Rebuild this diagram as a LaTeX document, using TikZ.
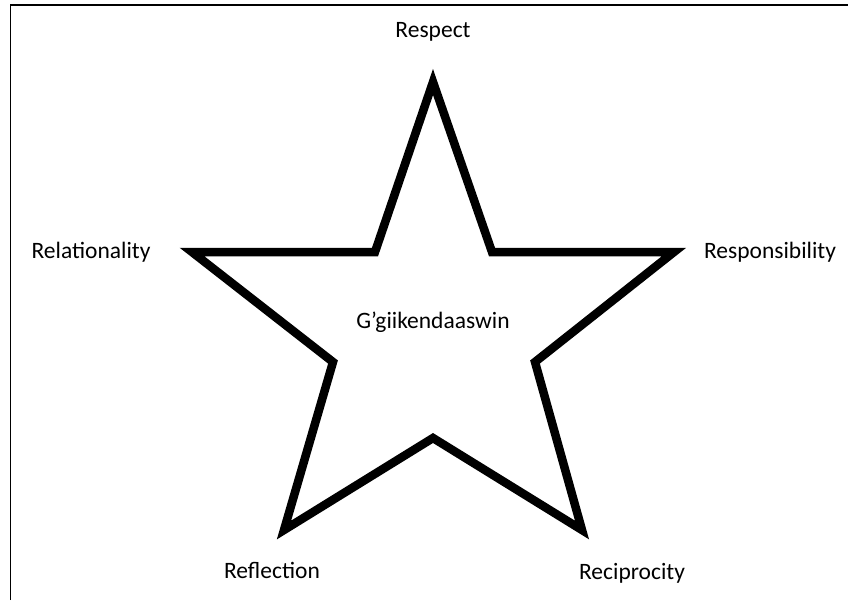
\documentclass[tikz,border=0pt]{standalone}
\usepackage{fontspec}
\setmainfont{Carlito}
\usepackage{tikz}
\usetikzlibrary{positioning}
\tikzset{
  star/line/.style={draw, line width=8.5pt, line join=miter, miter limit=20},
  star/label/.style={font=\fontsize{23.5}{27}\selectfont, inner sep=1pt},
  frame/.style={draw, line width=1.5pt}
}

\begin{document}
\begin{tikzpicture}[x=1pt, y=-1pt]
\useasboundingbox (0,0) rectangle (848,600);

% --- frame (left and top only) ---
\draw[frame] (10.5,600) -- (10.5,5) -- (848,5);

% --- star corners ---
\coordinate (top) at (433,82);
\coordinate (innl) at (375,252);
\coordinate (left) at (192,252);
\coordinate (midl) at (333,362);
\coordinate (botl) at (284,530);
\coordinate (bot) at (433,438);
\coordinate (botr) at (582,530);
\coordinate (midr) at (535,362);
\coordinate (right) at (674,252);
\coordinate (innr) at (492,252);

\draw[star/line] (top) -- (innr) -- (right) -- (midr) -- (botr) -- (bot)
  -- (botl) -- (midl) -- (left) -- (innl) -- cycle;

% --- labels ---
\node[star/label] (respect) at (433,32) {Respect};
\node[star/label] (relat) at (91,252) {Relationality};
\node[star/label] (respons) at (770,252) {Responsibility};
\node[star/label] (centre) at (433,322) {G’giikendaaswin};
\node[star/label] (reflect) at (272,570) {Reflection};
\node[star/label] (recip) at (632,573) {Reciprocity};

\end{tikzpicture}
\end{document}
